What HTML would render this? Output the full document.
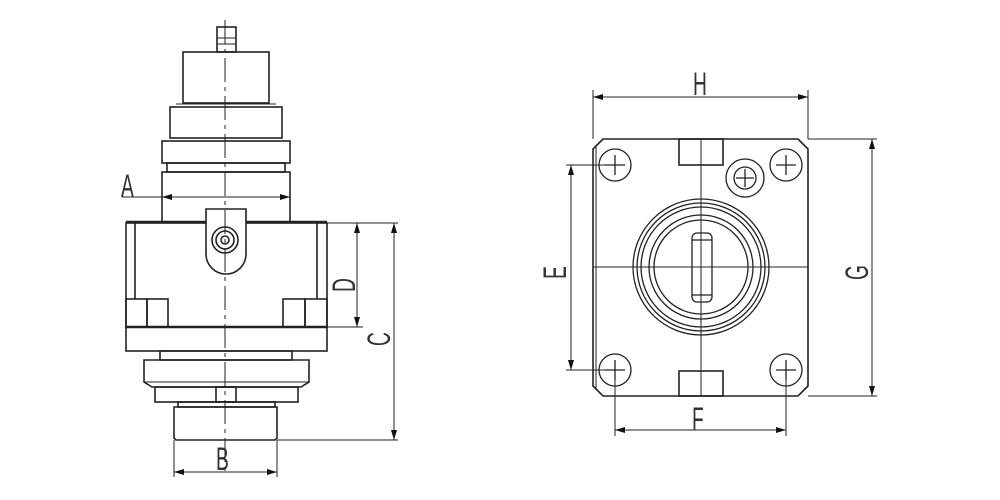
<!DOCTYPE html>
<html><head><meta charset="utf-8"><style>
html,body{margin:0;padding:0;background:#fff;}
svg{display:block;}
text{font-family:"Liberation Sans",sans-serif;font-size:24px;fill:#333;}
</style></head><body>
<svg width="1000" height="500" viewBox="0 0 1000 500" xmlns="http://www.w3.org/2000/svg">
<defs>
<marker id="ar" viewBox="0 0 10 6" refX="10" refY="3" markerWidth="14" markerHeight="6" markerUnits="userSpaceOnUse" orient="auto-start-reverse"><path d="M0,0 L10,3 L0,6 Z" fill="#111"/></marker>
</defs>
<g fill="none" stroke="#222" stroke-width="1.6">
<!-- LEFT VIEW -->
<rect x="217" y="27" width="19" height="25"/>
<line x1="217" y1="38" x2="236" y2="38" stroke-width="1"/>
<line x1="217" y1="44" x2="236" y2="44" stroke-width="1"/>
<rect x="183" y="52" width="86" height="51"/>
<rect x="170" y="107" width="112" height="31"/>
<line x1="176" y1="104" x2="276" y2="104" stroke-width="1"/>
<rect x="162" y="141" width="128" height="22"/>
<rect x="167" y="163" width="118" height="9"/>
<rect x="162" y="172" width="128" height="50"/>
<rect x="126" y="223" width="201" height="104"/>
<line x1="126" y1="222" x2="327" y2="222" stroke-width="2.6"/>
<line x1="135" y1="223" x2="135" y2="299"/>
<line x1="317" y1="223" x2="317" y2="299"/>
<rect x="126" y="299" width="21" height="28"/>
<rect x="147" y="299" width="21" height="28"/>
<rect x="283" y="299" width="22" height="28"/>
<rect x="305" y="299" width="22" height="28"/>
<line x1="126" y1="327" x2="327" y2="327" stroke-width="2.6"/>
<rect x="126" y="327" width="201" height="24"/>
<rect x="160" y="351" width="132" height="9"/>
<path d="M144,360 H309 V382 L301,387 H152 L144,382 Z"/>
<line x1="144" y1="382" x2="309" y2="382" stroke-width="1"/>
<rect x="155" y="387" width="143" height="15"/>
<rect x="216" y="387" width="20" height="15"/>
<rect x="178" y="402" width="97" height="5"/>
<path d="M174,407 H277 V438 L275,440 H176 L174,438 Z"/>
<path d="M206,209 H246 V254 A20,20 0 0 1 206,254 Z" fill="#fff"/>
<circle cx="225" cy="240" r="13"/>
<circle cx="225" cy="240" r="9"/>
<circle cx="225" cy="240" r="4"/>
<line x1="225" y1="20" x2="225" y2="475" stroke-width="1" stroke-dasharray="24,5,4,5"/>
<!-- dims left -->
<line x1="122" y1="197" x2="290" y2="197" stroke-width="1"/>
<line x1="170" y1="197" x2="162" y2="197" marker-end="url(#ar)" stroke-width="1"/>
<line x1="280" y1="197" x2="290" y2="197" marker-end="url(#ar)" stroke-width="1"/>
<line x1="327" y1="223" x2="398" y2="223" stroke-width="1"/>
<line x1="327" y1="327" x2="363" y2="327" stroke-width="1"/>
<line x1="357" y1="223" x2="357" y2="327" stroke-width="1" marker-start="url(#ar)" marker-end="url(#ar)"/>
<line x1="277" y1="440" x2="398" y2="440" stroke-width="1"/>
<line x1="394" y1="223" x2="394" y2="440" stroke-width="1" marker-start="url(#ar)" marker-end="url(#ar)"/>
<line x1="174" y1="440" x2="174" y2="477" stroke-width="1"/>
<line x1="277" y1="440" x2="277" y2="477" stroke-width="1"/>
<line x1="174" y1="472" x2="277" y2="472" stroke-width="1" marker-start="url(#ar)" marker-end="url(#ar)"/>

<!-- RIGHT VIEW -->
<path d="M603,139 H798 L808,149 V386 L798,396 H603 L593,386 V149 Z"/>
<line x1="596" y1="147" x2="596" y2="388" stroke-width="1"/>
<rect x="679" y="139" width="44" height="26"/>
<rect x="679" y="371" width="44" height="25"/>
<g stroke-width="1.3">
<circle cx="615" cy="165" r="16"/><circle cx="786" cy="165" r="16"/>
<circle cx="615" cy="370" r="16"/><circle cx="786" cy="370" r="16"/>
<path d="M605,165 H625 M615,155 V175 M776,165 H796 M786,155 V175 M776,370 H796 M786,360 V380 M605,370 H625 M615,360 V380"/>
<circle cx="745" cy="178" r="19"/><circle cx="745" cy="178" r="11"/>
<path d="M736,178 H754 M745,169 V187"/>
<circle cx="701" cy="267" r="68"/><circle cx="701" cy="267" r="64"/><circle cx="701" cy="267" r="60"/>
<circle cx="701" cy="267" r="52"/><circle cx="701" cy="267" r="47"/>
<rect x="692" y="233" width="20" height="69" rx="5"/>
<line x1="692" y1="240" x2="712" y2="240"/><line x1="692" y1="295" x2="712" y2="295"/>
</g>
<line x1="593" y1="267" x2="808" y2="267" stroke-width="1"/>
<line x1="701" y1="139" x2="701" y2="396" stroke-width="1"/>
<!-- dims right -->
<line x1="593" y1="90" x2="593" y2="139" stroke-width="1"/>
<line x1="808" y1="90" x2="808" y2="139" stroke-width="1"/>
<line x1="593" y1="97" x2="808" y2="97" stroke-width="1" marker-start="url(#ar)" marker-end="url(#ar)"/>
<line x1="808" y1="139" x2="877" y2="139" stroke-width="1"/>
<line x1="808" y1="396" x2="877" y2="396" stroke-width="1"/>
<line x1="872" y1="139" x2="872" y2="396" stroke-width="1" marker-start="url(#ar)" marker-end="url(#ar)"/>
<line x1="566" y1="165" x2="615" y2="165" stroke-width="1"/>
<line x1="566" y1="370" x2="615" y2="370" stroke-width="1"/>
<line x1="571" y1="165" x2="571" y2="370" stroke-width="1" marker-start="url(#ar)" marker-end="url(#ar)"/>
<line x1="615" y1="370" x2="615" y2="436" stroke-width="1"/>
<line x1="786" y1="370" x2="786" y2="436" stroke-width="1"/>
<line x1="615" y1="430" x2="786" y2="430" stroke-width="1" marker-start="url(#ar)" marker-end="url(#ar)"/>
</g>
<g>
<text x="0" y="0" transform="translate(121,197) scale(0.8,1.35)">A</text>
<text x="0" y="0" transform="translate(216,470) scale(0.8,1.35)">B</text>
<text x="0" y="0" transform="translate(355,292) rotate(-90) scale(0.8,1.35)">D</text>
<text x="0" y="0" transform="translate(390,346) rotate(-90) scale(0.8,1.35)">C</text>
<text x="0" y="0" transform="translate(693,95) scale(0.8,1.35)">H</text>
<text x="0" y="0" transform="translate(566,279) rotate(-90) scale(0.8,1.35)">E</text>
<text x="0" y="0" transform="translate(868,280) rotate(-90) scale(0.8,1.35)">G</text>
<text x="0" y="0" transform="translate(692,430) scale(0.8,1.35)">F</text>
</g>
</svg>
</body></html>
